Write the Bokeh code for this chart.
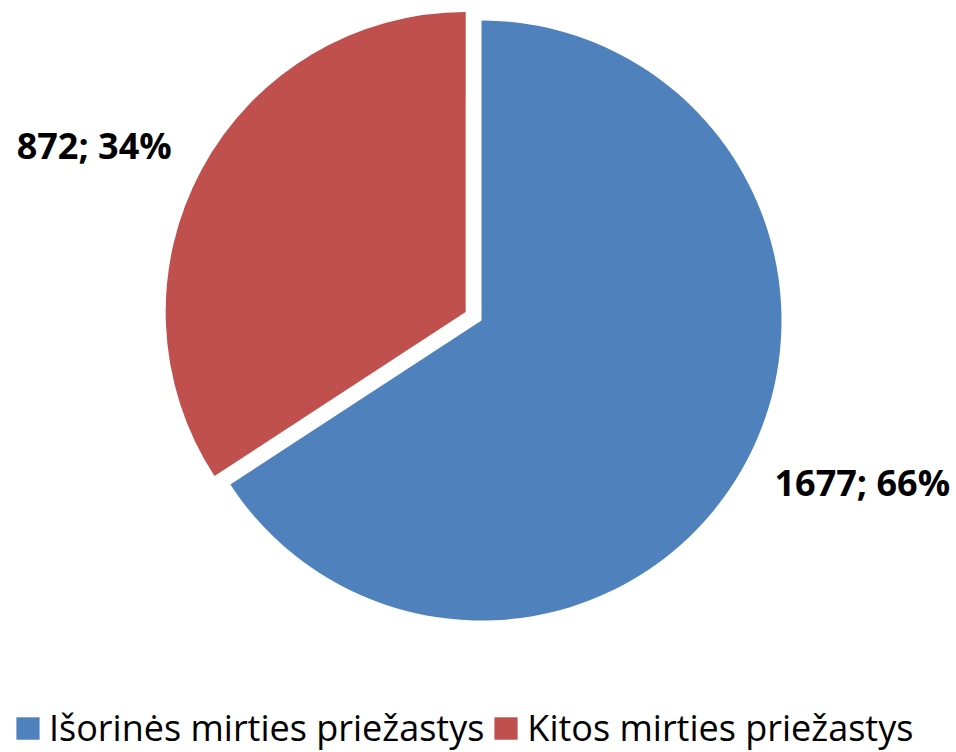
import math
from bokeh.plotting import figure
from bokeh.models import ColumnDataSource, Range1d
from bokeh.embed import file_html
from bokeh.resources import INLINE
from bokeh.core.properties import value

# ---- data ----
categories = ["Išorinės mirties priežastys", "Kitos mirties priežastys"]
counts = [1677, 872]
colors = ["#4F81BD", "#C0504D"]
explode = [0, 18]

# ---- layout constants ----
W, H = 956, 752
CX, CY, R = 481, -320, 300
LABEL_DIST = 340
label_dx = [-6, 5]
label_dy = [0, 5]

p = figure(width=W, height=H, output_backend="svg", toolbar_location=None,
           x_range=Range1d(0, W), y_range=Range1d(-H, 0),
           x_axis_type=None, y_axis_type=None, min_border=0)
p.grid.visible = False
p.outline_line_color = None

total = sum(counts)
fracs = [c / total for c in counts]
xs, ys, starts, ends, mids = [], [], [], [], []
cum = 0.0
for f, ex in zip(fracs, explode):
    a0 = math.pi / 2 - 2 * math.pi * cum
    a1 = math.pi / 2 - 2 * math.pi * (cum + f)
    mid = (a0 + a1) / 2
    starts.append(a1)
    ends.append(a0)
    mids.append(mid)
    xs.append(CX + ex * math.cos(mid))
    ys.append(CY + ex * math.sin(mid))
    cum += f

src = ColumnDataSource(dict(x=xs, y=ys, start=starts, end=ends,
                            color=colors, label=categories))
p.wedge(x="x", y="y", radius=R, start_angle="start", end_angle="end",
        direction="anticlock", fill_color="color", line_color=None,
        legend_field="label", source=src)

for x, y, m, c, f, dx, dy in zip(xs, ys, mids, counts, fracs, label_dx, label_dy):
    lx = x + LABEL_DIST * math.cos(m) + dx
    ly = y + LABEL_DIST * math.sin(m) + dy
    align = "left" if math.cos(m) > 0 else "right"
    p.text(x=[lx], y=[ly], text=[f"{c}; {round(100 * f)}%"],
           text_align=align, text_baseline="middle",
           text_font=value("Open Sans"), text_font_style="bold",
           text_font_size="36px", text_color="black")

lg = p.legend[0]
lg.orientation = "horizontal"
lg.location = (13, 0)
lg.label_text_font = "Open Sans"
lg.label_text_font_size = "36px"
lg.label_text_color = "black"
lg.glyph_width = 29
lg.glyph_height = 28
lg.label_standoff = 7
lg.spacing = 7
lg.padding = 0
lg.margin = 0
lg.border_line_color = None
lg.background_fill_alpha = 0

open("out.html", "w").write(file_html(p, INLINE))
